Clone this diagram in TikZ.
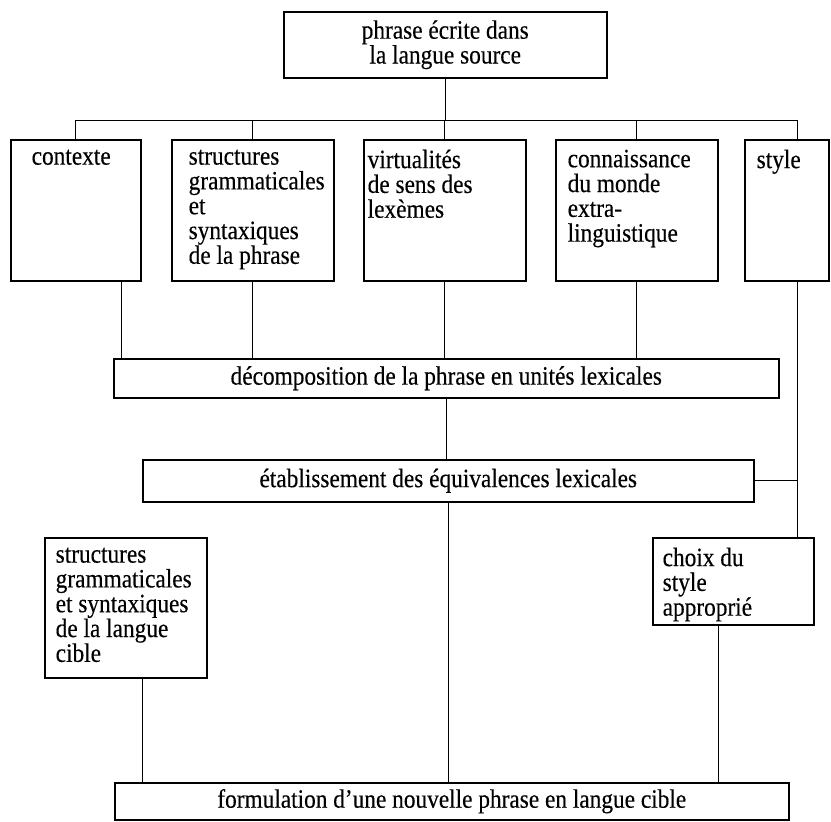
\documentclass[tikz,border=0pt]{standalone}
\usepackage{fontspec}
\setmainfont{Liberation Serif}[FakeStretch=0.88, FakeBold=0.3]
\usepackage{tikz}

\tikzset{
    box/.style={draw, rectangle, line width=1.5pt, inner sep=0pt, anchor=north west},
    boxtext/.style={anchor=north west, align=left, inner xsep=#1, inner ysep=10pt},
    boxtext/.default=12pt,
    every node/.style={font=\fontsize{26.5}{24.8}\selectfont},
}

\begin{document}
\begin{tikzpicture}[x=1pt, y=-1pt, line width=1.4pt]
    \useasboundingbox (0,0) rectangle (831,822);
    \node[box, minimum width=323, minimum height=66, align=center] (src) at (283,11) {phrase écrite dans\\la langue source};
    \node[box, minimum width=130, minimum height=141, label={[boxtext=21pt]north west:contexte}] (ctx) at (10,139) {};
    \node[box, minimum width=162, minimum height=141, label={[boxtext=17pt]north west:structures\\grammaticales\\et\\syntaxiques\\de la phrase}] (str) at (171,139) {};
    \node[box, minimum width=162, minimum height=141, label={[boxtext=4pt]north west:virtualités\\de sens des\\lexèmes}] (virt) at (363,139) {};
    \node[box, minimum width=162, minimum height=141, label={[boxtext]north west:connaissance\\du monde\\extra-\\linguistique}] (conn) at (555,139) {};
    \node[box, minimum width=84, minimum height=141, label={[boxtext]north west:style}] (sty) at (744,139) {};
    \node[box, minimum width=665, minimum height=39] (dec) at (113,358) {décomposition de la phrase en unités lexicales};
    \node[box, minimum width=611, minimum height=42] (eta) at (142,459) {établissement des équivalences lexicales};
    \node[box, minimum width=162, minimum height=140, label={[boxtext=11pt]north west:structures\\grammaticales\\et syntaxiques\\de la langue\\cible}] (cib) at (44,537) {};
    \node[box, minimum width=161, minimum height=87, label={[boxtext=10pt]north west:choix du\\style\\approprié}] (cho) at (652,537) {};
    \node[box, minimum width=674, minimum height=37] (frm) at (114,782) {formulation d’une nouvelle phrase en langue cible};

    \coordinate (hub) at ([yshift=-42]src.south);
    \coordinate (ctx-out) at ([xshift=46]ctx.south);
    \coordinate (sty-out) at ([xshift=11]sty.south);
    \coordinate (cib-out) at ([xshift=17]cib.south);
    \coordinate (cho-out) at ([xshift=-15]cho.south);

    \draw (src.south) -- (hub);
    \draw (ctx.north) |- (hub) -| ([xshift=11]sty.north);
    \draw (str.north) -- (str.north |- hub);
    \draw (virt.north) -- (virt.north |- hub);
    \draw (conn.north) -- (conn.north |- hub);

    \draw (ctx-out) -- (ctx-out |- dec.north);
    \draw (str.south) -- (str.south |- dec.north);
    \draw (virt.south) -- (virt.south |- dec.north);
    \draw (conn.south) -- (conn.south |- dec.north);
    \draw (sty-out) -- (sty-out |- cho.north);

    \draw (dec.south) -- (dec.south |- eta.north);
    \draw (eta.east) -- (eta.east -| sty-out);
    \draw (eta.south) -- (eta.south |- frm.north);
    \draw (cib-out) -- (cib-out |- frm.north);
    \draw (cho-out) -- (cho-out |- frm.north);
\end{tikzpicture}
\end{document}
